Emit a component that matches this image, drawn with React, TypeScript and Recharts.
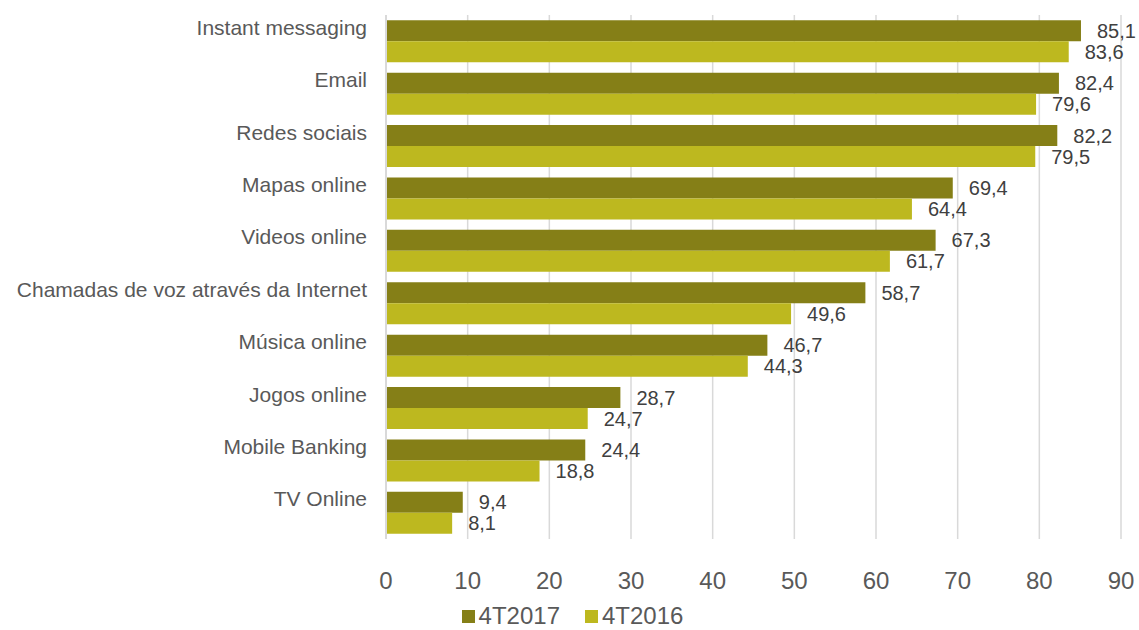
import { BarChart, Bar, XAxis, YAxis, CartesianGrid, Legend, LabelList } from 'recharts';

const categories = [
  'Instant messaging',
  'Email',
  'Redes sociais',
  'Mapas online',
  'Videos online',
  'Chamadas de voz através da Internet',
  'Música online',
  'Jogos online',
  'Mobile Banking',
  'TV Online',
];
const values2017 = [85.1, 82.4, 82.2, 69.4, 67.3, 58.7, 46.7, 28.7, 24.4, 9.4];
const values2016 = [83.6, 79.6, 79.5, 64.4, 61.7, 49.6, 44.3, 24.7, 18.8, 8.1];
const xTicks = [0, 10, 20, 30, 40, 50, 60, 70, 80, 90];

const data = categories.map((name, i) => ({
  name,
  t2017: values2017[i],
  t2016: values2016[i],
}));

const DARK = '#857f17';
const LIGHT = '#bdb81f';
const FONT = '"Liberation Sans", Arial, sans-serif';

const fmt = (v: any) => String(v).replace('.', ',');

function CategoryTick(props: any) {
  const { y, payload } = props;
  return (
    <text x={367} y={y - 14} textAnchor="end" dominantBaseline="central" fill="#595959" fontSize={21} fontFamily={FONT}>
      {payload.value}
    </text>
  );
}

function ValueTick(props: any) {
  const { x, payload } = props;
  return (
    <text x={x} y={580} textAnchor="middle" dominantBaseline="central" fill="#595959" fontSize={24} fontFamily={FONT}>
      {payload.value}
    </text>
  );
}

function LegendContent() {
  const items = [
    { label: '4T2017', color: DARK },
    { label: '4T2016', color: LIGHT },
  ];
  return (
    <div
      style={{
        display: 'flex',
        justifyContent: 'center',
        alignItems: 'center',
        gap: 25,
        paddingTop: 12,
        paddingLeft: 24,
        height: 28,
        lineHeight: '28px',
        fontFamily: FONT,
        fontSize: 24,
        color: '#595959',
      }}
    >
      {items.map((it) => (
        <div key={it.label} style={{ display: 'flex', alignItems: 'center' }}>
          <span style={{ width: 13, height: 13, background: it.color, display: 'inline-block', marginRight: 4 }} />
          <span>{it.label}</span>
        </div>
      ))}
    </div>
  );
}

export default function App() {
  return (
    <div style={{ position: 'absolute', left: 0, top: 0, width: 1139, height: 630, background: '#fff' }}>
      <BarChart
        width={1139}
        height={630}
        data={data}
        layout="vertical"
        margin={{ top: 15, right: 18, bottom: 0, left: 0 }}
        barCategoryGap="10%"
        barGap={0}
      >
        <CartesianGrid horizontal={false} stroke="#d9d9d9" strokeWidth={1.5} />
        <XAxis
          type="number"
          domain={[0, 90]}
          ticks={xTicks}
          axisLine={false}
          tickLine={false}
          tick={<ValueTick />}
          height={51}
          interval={0}
        />
        <YAxis
          type="category"
          dataKey="name"
          width={386}
          axisLine={{ stroke: '#d9d9d9', strokeWidth: 2 }}
          tickLine={false}
          tick={<CategoryTick />}
          interval={0}
        />
        <Legend verticalAlign="bottom" content={<LegendContent />} wrapperStyle={{ height: 40 }} />
        <Bar dataKey="t2017" fill={DARK} isAnimationActive={false}>
          <LabelList dataKey="t2017" position="right" offset={16} formatter={fmt} fill="#404040" fontSize={20} fontFamily={FONT} />
        </Bar>
        <Bar dataKey="t2016" fill={LIGHT} isAnimationActive={false}>
          <LabelList dataKey="t2016" position="right" offset={16} formatter={fmt} fill="#404040" fontSize={20} fontFamily={FONT} />
        </Bar>
      </BarChart>
    </div>
  );
}
